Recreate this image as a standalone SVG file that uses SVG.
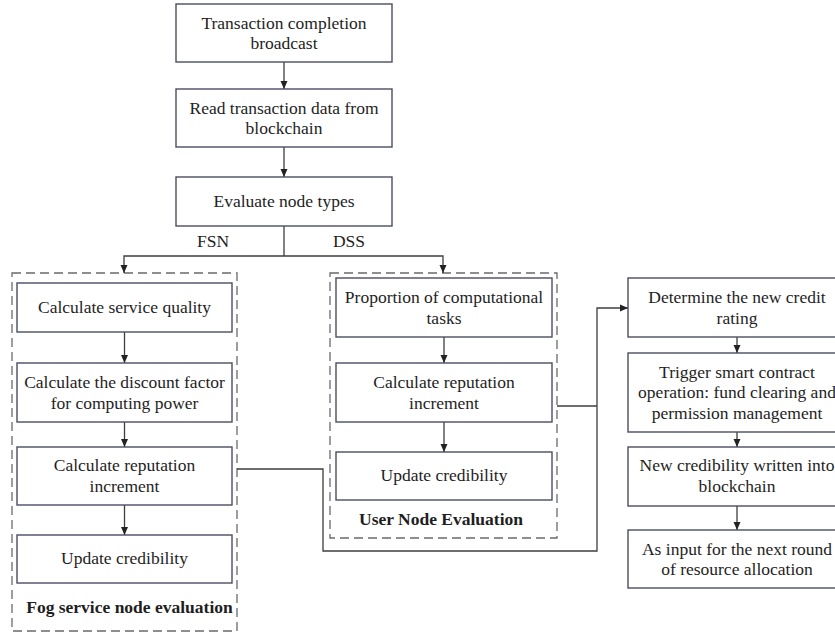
<svg xmlns="http://www.w3.org/2000/svg" width="835" height="632" viewBox="0 0 835 632">
<defs>
<style>
.box{fill:#fff;stroke:#4a4e60;stroke-width:1.4}
.grp{fill:none;stroke:#6a6a6a;stroke-width:1.3;stroke-dasharray:9 5}
.t{font-size:17.5px;fill:#1e1e1e;text-anchor:middle}
.b{font-weight:bold}
.c{fill:none;stroke:#3e3e3e;stroke-width:1.3}
</style>
<marker id="ah" viewBox="0 0 8 8" refX="8" refY="4" markerWidth="8" markerHeight="8" markerUnits="userSpaceOnUse" orient="auto">
<path d="M0,0.5 L8,4 L0,7.5 Z" fill="#222"/>
</marker>
</defs>
<rect width="835" height="632" fill="#fff"/>
<g font-family="'Liberation Serif', 'DejaVu Serif', serif">
<g id="group-fog">
<rect class="grp" x="12" y="273" width="225" height="358"/>
<text class="t b" x="129.5" y="613">Fog service node evaluation</text>
</g>
<g id="group-user">
<rect class="grp" x="330" y="273" width="227" height="265"/>
<text class="t b" x="441" y="525">User Node Evaluation</text>
</g>

<g id="connectors">
<path class="c" d="M284,62 V89" marker-end="url(#ah)"/>
<path class="c" d="M284,147 V177" marker-end="url(#ah)"/>
<path class="c" d="M284,226 V256"/>
<path class="c" d="M284,256 H124 V273" marker-end="url(#ah)"/>
<path class="c" d="M284,256 H443 V273" marker-end="url(#ah)"/>
<path class="c" d="M124.5,332 V363" marker-end="url(#ah)"/>
<path class="c" d="M124.5,422 V447" marker-end="url(#ah)"/>
<path class="c" d="M124.5,505 V535" marker-end="url(#ah)"/>
<path class="c" d="M444,337 V363" marker-end="url(#ah)"/>
<path class="c" d="M444,422 V452" marker-end="url(#ah)"/>
<path class="c" d="M237,469 H323 V551 H597 V308 H628" marker-end="url(#ah)"/>
<path class="c" d="M557,406 H597"/>
<path class="c" d="M737,337 V353" marker-end="url(#ah)"/>
<path class="c" d="M737,432 V447" marker-end="url(#ah)"/>
<path class="c" d="M737,506 V530" marker-end="url(#ah)"/>
<text class="t" x="213" y="246.5">FSN</text>
<text class="t" x="349" y="246.5">DSS</text>
</g>

<g id="n-broadcast">
<rect class="box" x="176" y="4" width="216" height="58"/>
<text class="t" x="284" y="29">Transaction completion</text>
<text class="t" x="284" y="49">broadcast</text>
</g>
<g id="n-read">
<rect class="box" x="176" y="89" width="216" height="58"/>
<text class="t" x="284" y="113.5">Read transaction data from</text>
<text class="t" x="284" y="134">blockchain</text>
</g>
<g id="n-evaluate">
<rect class="box" x="176" y="177" width="216" height="49"/>
<text class="t" x="284" y="207">Evaluate node types</text>
</g>

<g id="n-service-quality">
<rect class="box" x="17" y="283" width="215" height="49"/>
<text class="t" x="124.5" y="313">Calculate service quality</text>
</g>
<g id="n-discount">
<rect class="box" x="17" y="363" width="215" height="59"/>
<text class="t" x="124.5" y="388">Calculate the discount factor</text>
<text class="t" x="124.5" y="408.5">for computing power</text>
</g>
<g id="n-fog-increment">
<rect class="box" x="17" y="447" width="215" height="58"/>
<text class="t" x="124.5" y="471">Calculate reputation</text>
<text class="t" x="124.5" y="491.5">increment</text>
</g>
<g id="n-fog-update">
<rect class="box" x="17" y="535" width="215" height="48"/>
<text class="t" x="124.5" y="564">Update credibility</text>
</g>

<g id="n-proportion">
<rect class="box" x="336" y="278" width="216" height="59"/>
<text class="t" x="444" y="303">Proportion of computational</text>
<text class="t" x="444" y="323.5">tasks</text>
</g>
<g id="n-user-increment">
<rect class="box" x="336" y="363" width="216" height="59"/>
<text class="t" x="444" y="388">Calculate reputation</text>
<text class="t" x="444" y="408.5">increment</text>
</g>
<g id="n-user-update">
<rect class="box" x="336" y="452" width="216" height="48"/>
<text class="t" x="444" y="481">Update credibility</text>
</g>

<g id="n-credit-rating">
<rect class="box" x="628" y="278" width="218" height="59"/>
<text class="t" x="737" y="303">Determine the new credit</text>
<text class="t" x="737" y="323.5">rating</text>
</g>
<g id="n-smart-contract">
<rect class="box" x="628" y="353" width="218" height="79"/>
<text class="t" x="737" y="378">Trigger smart contract</text>
<text class="t" x="737" y="398">operation: fund clearing and</text>
<text class="t" x="737" y="418.5">permission management</text>
</g>
<g id="n-written">
<rect class="box" x="628" y="447" width="218" height="59"/>
<text class="t" x="737" y="471">New credibility written into</text>
<text class="t" x="737" y="491.5">blockchain</text>
</g>
<g id="n-next-round">
<rect class="box" x="628" y="530" width="218" height="58"/>
<text class="t" x="737" y="554.5">As input for the next round</text>
<text class="t" x="737" y="575">of resource allocation</text>
</g>
</g>
</svg>
